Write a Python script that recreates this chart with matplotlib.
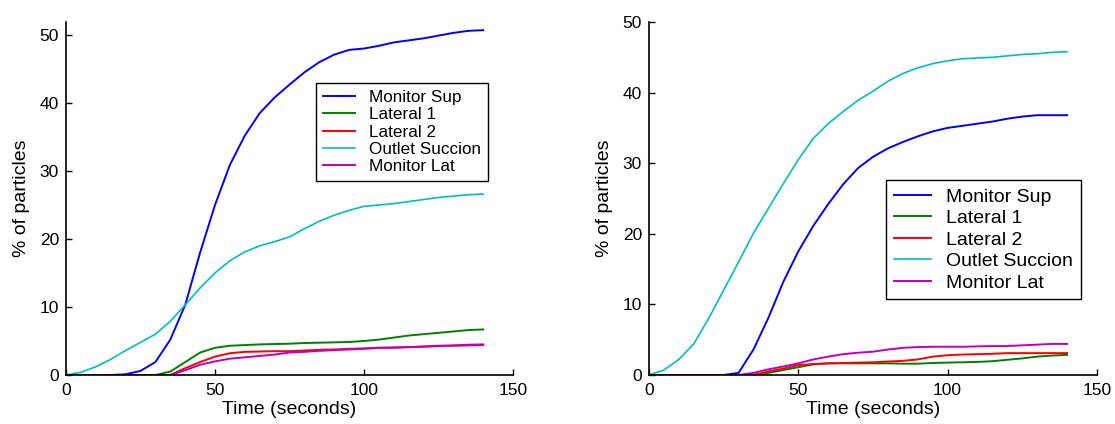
import matplotlib
matplotlib.use("Agg")
import matplotlib.pyplot as plt
import numpy as np

plt.rcParams["font.family"] = ["Liberation Sans", "DejaVu Sans"]

# time axis shared by every series (seconds)
t = np.arange(0, 141, 5)

labels = ["Monitor Sup", "Lateral 1", "Lateral 2", "Outlet Succion", "Monitor Lat"]
colors = ["#0000ff", "#008000", "#ff0000", "#00bfbf", "#bf00bf"]

# left panel
left_sup = [0, 0, 0, 0, 0.1, 0.6, 1.9, 5.2, 10.3, 18.0, 25.0, 30.9, 35.2, 38.5, 40.8,
            42.7, 44.5, 46.0, 47.1, 47.8, 48.0, 48.4, 48.9, 49.2, 49.5, 49.9, 50.3, 50.6, 50.7]
left_lat1 = [0, 0, 0, 0, 0, 0, 0, 0.5, 1.9, 3.3, 4.0, 4.3, 4.4, 4.5, 4.55,
             4.6, 4.7, 4.75, 4.8, 4.85, 5.0, 5.2, 5.5, 5.8, 6.0, 6.2, 6.4, 6.6, 6.7]
left_lat2 = [0, 0, 0, 0, 0, 0, 0, 0, 1.0, 1.9, 2.7, 3.2, 3.4, 3.45, 3.5,
             3.5, 3.6, 3.7, 3.75, 3.85, 3.9, 4.0, 4.0, 4.1, 4.15, 4.25, 4.3, 4.35, 4.4]
left_outlet = [0, 0.4, 1.2, 2.3, 3.6, 4.8, 6.0, 7.9, 10.3, 12.8, 15.0, 16.8, 18.1, 19.0, 19.6,
               20.3, 21.5, 22.6, 23.5, 24.2, 24.8, 25.0, 25.2, 25.5, 25.8, 26.1, 26.3, 26.5, 26.6]
left_mlat = [0, 0, 0, 0, 0, 0, 0, 0, 0.7, 1.5, 2.0, 2.4, 2.6, 2.8, 3.0,
             3.3, 3.4, 3.55, 3.65, 3.75, 3.85, 4.0, 4.05, 4.1, 4.2, 4.3, 4.35, 4.45, 4.5]

# right panel
right_sup = [0, 0, 0, 0, 0, 0, 0.3, 3.6, 8.1, 13.2, 17.5, 21.1, 24.2, 27.0, 29.3,
             30.9, 32.1, 33.0, 33.8, 34.5, 35.0, 35.3, 35.6, 35.9, 36.3, 36.6, 36.8, 36.8, 36.8]
right_lat1 = [0, 0, 0, 0, 0, 0, 0, 0, 0.3, 0.7, 1.1, 1.5, 1.65, 1.65, 1.65,
              1.65, 1.65, 1.6, 1.6, 1.7, 1.75, 1.8, 1.85, 1.95, 2.15, 2.35, 2.6, 2.75, 2.85]
right_lat2 = [0, 0, 0, 0, 0, 0, 0, 0, 0.5, 0.9, 1.4, 1.55, 1.65, 1.7, 1.75,
              1.8, 1.9, 2.0, 2.2, 2.6, 2.8, 2.9, 2.95, 3.0, 3.1, 3.1, 3.1, 3.1, 3.1]
right_outlet = [0, 0.7, 2.2, 4.4, 8.0, 12.0, 16.0, 20.1, 23.6, 27.1, 30.5, 33.5, 35.6, 37.3, 38.9,
                40.2, 41.6, 42.7, 43.5, 44.1, 44.5, 44.8, 44.9, 45.0, 45.2, 45.4, 45.5, 45.7, 45.8]
right_mlat = [0, 0, 0, 0, 0, 0, 0, 0.3, 0.8, 1.2, 1.65, 2.2, 2.6, 2.95, 3.15,
              3.3, 3.6, 3.85, 3.95, 4.0, 4.0, 4.0, 4.05, 4.1, 4.1, 4.2, 4.3, 4.4, 4.4]

# (series, y top, legend corner, legend font size, legend row spacing)
panels = [
    ([left_sup, left_lat1, left_lat2, left_outlet, left_mlat], 51.9, (0.559, 0.827), 12.3, 0.14),
    ([right_sup, right_lat1, right_lat2, right_outlet, right_mlat], 50, (0.529, 0.552), 14, 0.2),
]
widths = [1.4, 1.4, 1.4, 1.2, 1.4]

fig = plt.figure(figsize=(11.15, 4.24), dpi=100)
rects = [[0.0592, 0.1156, 0.4009, 0.8325], [0.582, 0.1156, 0.4018, 0.8325]]

for rect, (series, ytop, leg_pos, leg_fs, leg_sp) in zip(rects, panels):
    ax = fig.add_axes(rect)
    for vals, lab, col, lw in zip(series, labels, colors, widths):
        ax.plot(t, vals, color=col, lw=lw, label=lab)
    ax.set_xlim(0, 150)
    ax.set_ylim(0, ytop)
    ax.set_xticks([0, 50, 100, 150])
    ax.set_yticks([0, 10, 20, 30, 40, 50])
    ax.spines["top"].set_visible(False)
    ax.spines["right"].set_visible(False)
    for s in ("left", "bottom"):
        ax.spines[s].set_linewidth(1.2)
        ax.spines[s].set_color("black")
    ax.tick_params(direction="in", length=4, width=1, labelsize=12.5)
    ax.tick_params(axis="x", pad=6)
    ax.tick_params(axis="y", pad=5)
    ax.set_xlabel("Time (seconds)", fontsize=14, labelpad=2)
    ax.set_ylabel("% of particles", fontsize=14, labelpad=7)
    leg = ax.legend(loc="upper left", bbox_to_anchor=leg_pos, fontsize=leg_fs,
                    fancybox=False, framealpha=1, edgecolor="black",
                    handlelength=1.9, handletextpad=0.8, labelspacing=leg_sp,
                    borderpad=0.4, borderaxespad=0)
    leg.get_frame().set_linewidth(1.0)

fig.savefig("out.png", dpi=100)
